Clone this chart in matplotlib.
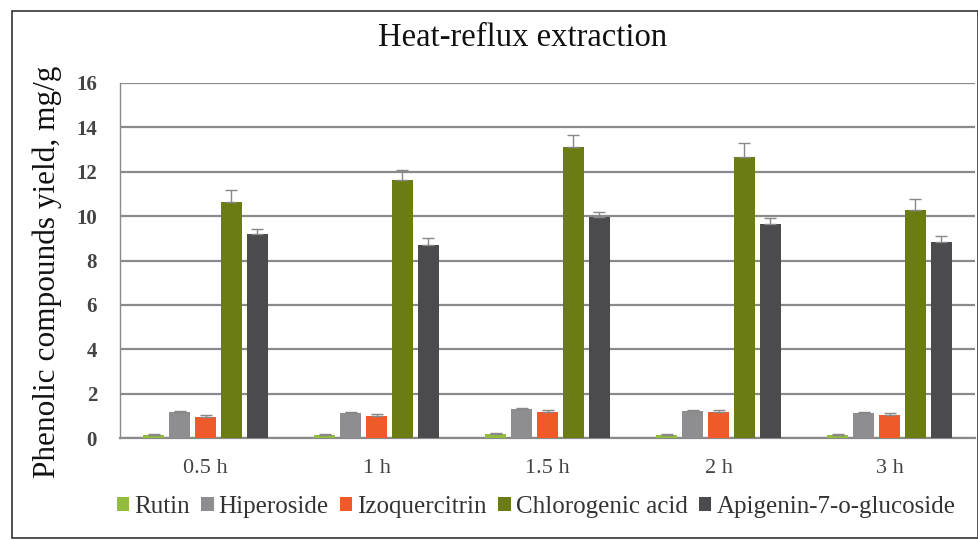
import matplotlib
matplotlib.use("Agg")
import matplotlib.pyplot as plt
import numpy as np
from matplotlib.patches import Rectangle

categories = ["0.5 h", "1 h", "1.5 h", "2 h", "3 h"]
series_names = ["Rutin", "Hiperoside", "Izoquercitrin", "Chlorogenic acid", "Apigenin-7-o-glucoside"]
rutin = [0.15, 0.15, 0.18, 0.15, 0.12]
hiperoside = [1.15, 1.12, 1.30, 1.20, 1.12]
izoquercitrin = [0.95, 1.00, 1.18, 1.18, 1.05]
chlorogenic = [10.65, 11.63, 13.13, 12.68, 10.27]
apigenin = [9.19, 8.70, 9.97, 9.64, 8.85]
rutin_err = [0.05, 0.05, 0.05, 0.05, 0.05]
hiperoside_err = [0.06, 0.06, 0.07, 0.06, 0.06]
izoquercitrin_err = [0.07, 0.07, 0.08, 0.07, 0.08]
chlorogenic_err = [0.53, 0.45, 0.52, 0.63, 0.50]
apigenin_err = [0.21, 0.30, 0.23, 0.26, 0.25]
yticks = [0, 2, 4, 6, 8, 10, 12, 14, 16]

values = [rutin, hiperoside, izoquercitrin, chlorogenic, apigenin]
errors = [rutin_err, hiperoside_err, izoquercitrin_err, chlorogenic_err, apigenin_err]
colors = ["#92bd3c", "#8e8e90", "#ee5a2a", "#6b7d12", "#4b4b4e"]

serif = ["Liberation Serif", "DejaVu Serif"]
plt.rcParams["font.family"] = serif

fig = plt.figure(figsize=(9.79, 5.40), dpi=100)
ax = fig.add_axes([120 / 979, 1 - 438 / 540, 855 / 979, 355 / 540])

x = np.arange(len(categories))
spacing = 0.152
width = 0.118
for i, (vals, errs, col, name) in enumerate(zip(values, errors, colors, series_names)):
    off = (i - 2) * spacing
    ax.bar(x + off, vals, width, color=col, label=name, zorder=3,
           yerr=[np.zeros(len(errs)), errs],
           error_kw=dict(ecolor="#888888", elinewidth=1, capsize=4, capthick=1, zorder=4))

ax.set_ylim(0, 16)
ax.set_xlim(-0.5, len(categories) - 0.5)
ax.set_yticks(yticks)
ax.set_yticklabels([str(t) for t in yticks])
ax.set_xticks(x)
ax.set_xticklabels(categories)
ax.tick_params(axis="both", length=0, labelcolor="#444444")
ax.tick_params(axis="y", pad=16.5, labelsize=15)
ax.tick_params(axis="x", pad=15, labelsize=16)
for lab in ax.get_yticklabels():
    lab.set_fontweight("bold")

ax.yaxis.grid(True, color="#8a8a8a", linewidth=1.6, zorder=0)
ax.set_axisbelow(True)
for s in ["top", "right"]:
    ax.spines[s].set_visible(False)
ax.spines["left"].set_color("#8a8a8a")
ax.spines["left"].set_linewidth(1.0)
ax.spines["bottom"].set_color("#8a8a8a")
ax.spines["bottom"].set_linewidth(1.6)

fig.text(47 / 979, 1 - 272 / 540, "Phenolic compounds yield, mg/g", rotation=90,
         ha="center", va="center", fontsize=22.5, color="#111111")
fig.text(523 / 979, 1 - 38 / 540, "Heat-reflux extraction", ha="center", va="center",
         fontsize=23.5, color="#111111")

leg = fig.legend(loc="center", bbox_to_anchor=(536 / 979, 1 - 507 / 540), ncol=5,
                 frameon=False, fontsize=18, handlelength=0.5, handleheight=0.5,
                 handletextpad=0.2, columnspacing=0.45, labelcolor="#333333")

fig.patches.append(Rectangle((12 / 979, 2 / 540), 966 / 979, 527 / 540, transform=fig.transFigure,
                             fill=False, edgecolor="#333333", linewidth=1.2))

fig.savefig("out.png", dpi=100)
